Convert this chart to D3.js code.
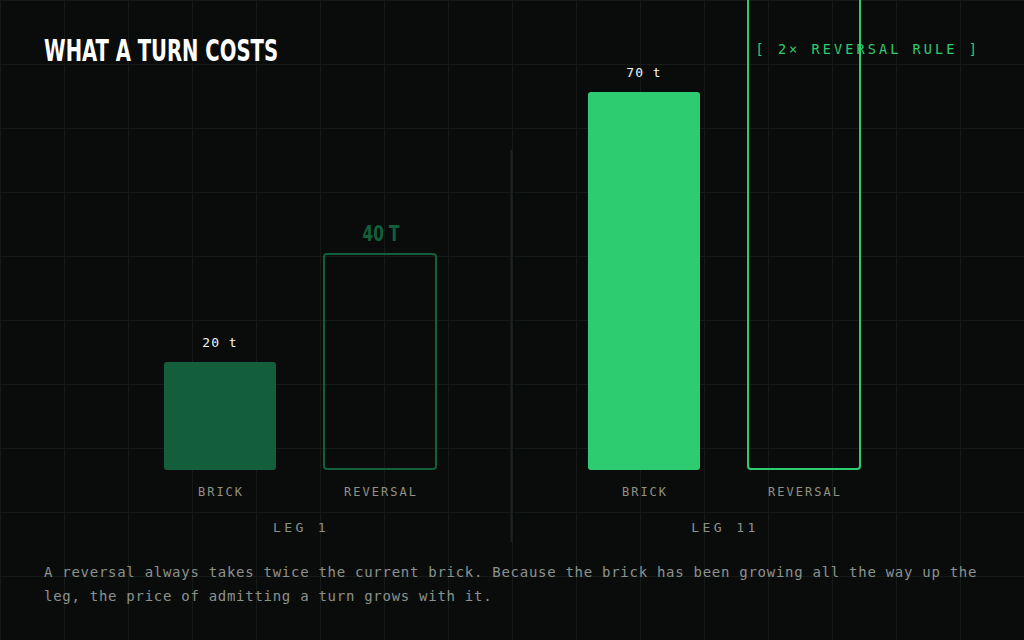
<!DOCTYPE html>
<html>
<head>
<meta charset="utf-8">
<script src="https://cdn.jsdelivr.net/npm/d3@7"></script>
<style>
  html, body { margin: 0; padding: 0; background: #0a0c0c; }
  svg { display: block; }
  .mono { font-family: "DejaVu Sans Mono", "Liberation Mono", monospace; }
  .cond { font-family: "DejaVu Sans Condensed", "DejaVu Sans", sans-serif; font-weight: bold; }
</style>
</head>
<body>
<div id="chart"></div>
<script>
// donnees du graphique
const legs = ["LEG 1", "LEG 11"];
const kinds = ["BRICK", "REVERSAL"];
const brickTonnes = [20, 70];
const reversalTonnes = [40, 140];
const legColours = ["#145f3b", "#2ecc71"];
const noteLines = [
    "A reversal always takes twice the current brick. Because the brick has been growing all the way up the",
    "leg, the price of admitting a turn grows with it."
];

const width = 1024;
const height = 640;

const svg = d3.select("#chart")
    .append("svg")
    .attr("width", width)
    .attr("height", height);

svg.append("rect")
    .attr("width", width)
    .attr("height", height)
    .attr("fill", "#0a0c0c");

// grille de fond
const grid = svg.append("g").attr("stroke", "#151a19").attr("stroke-width", 1);
grid.selectAll(".gx")
    .data(d3.range(0, width, 64))
    .enter().append("line")
    .attr("x1", d => d + 0.5).attr("x2", d => d + 0.5)
    .attr("y1", 0).attr("y2", height);
grid.selectAll(".gy")
    .data(d3.range(0, height, 64))
    .enter().append("line")
    .attr("x1", 0).attr("x2", width)
    .attr("y1", d => d + 0.5).attr("y2", d => d + 0.5);

// echelles
const x = d3.scaleBand()
    .domain(legs)
    .range([88, 936]);

const xInner = d3.scaleBand()
    .domain(kinds)
    .range([0, x.bandwidth()])
    .paddingInner(0.3)
    .paddingOuter(0.475);

const y = d3.scaleLinear()
    .domain([0, 70])
    .range([470, 92]);

// tableau par barre
const bars = [];
legs.forEach((leg, i) => {
    bars.push({ leg, kind: kinds[0], value: brickTonnes[i], colour: legColours[i] });
    bars.push({ leg, kind: kinds[1], value: reversalTonnes[i], colour: legColours[i] });
});

// separateur entre les deux jambes
svg.append("line")
    .attr("x1", 511.5).attr("x2", 511.5)
    .attr("y1", 150).attr("y2", 542)
    .attr("stroke", "#1c231f")
    .attr("stroke-width", 2);

const legG = svg.selectAll(".leg")
    .data(bars)
    .enter().append("g")
    .attr("class", "leg")
    .attr("transform", d => `translate(${x(d.leg) + xInner(d.kind)},0)`);

// briques pleines
legG.filter(d => d.kind === "BRICK").append("rect")
    .attr("x", 0)
    .attr("y", d => y(d.value))
    .attr("width", xInner.bandwidth())
    .attr("height", d => y(0) - y(d.value))
    .attr("rx", 3)
    .attr("fill", d => d.colour);

// renversements en contour
legG.filter(d => d.kind === "REVERSAL").append("rect")
    .attr("x", 0)
    .attr("y", d => y(d.value))
    .attr("width", xInner.bandwidth())
    .attr("height", d => y(0) - y(d.value) - 1)
    .attr("rx", 3)
    .attr("fill", "none")
    .attr("stroke", d => d.colour)
    .attr("stroke-width", 2);

// etiquettes de valeur
legG.filter(d => d.kind === "BRICK").append("text")
    .attr("class", "mono")
    .attr("x", xInner.bandwidth() / 2)
    .attr("y", d => y(d.value) - 15)
    .attr("text-anchor", "middle")
    .attr("fill", "#f2f5f3")
    .style("font-size", "13px")
    .style("letter-spacing", "1px")
    .text(d => `${d.value} t`);

// l'etiquette du grand renversement sort du cadre : on ne garde que celles visibles
legG.filter(d => d.kind === "REVERSAL" && y(d.value) - 13 > 24).append("text")
    .attr("class", "cond")
    .attr("x", xInner.bandwidth() / 2 + 1)
    .attr("y", d => y(d.value) - 13)
    .attr("text-anchor", "middle")
    .attr("fill", d => d.colour)
    .attr("textLength", 37)
    .attr("lengthAdjust", "spacingAndGlyphs")
    .style("font-size", "22px")
    .text(d => `${d.value} T`);

// noms des barres
legG.append("text")
    .attr("class", "mono")
    .attr("x", xInner.bandwidth() / 2 + 1)
    .attr("y", 496)
    .attr("text-anchor", "middle")
    .attr("fill", "#8f9283")
    .style("font-size", "12px")
    .style("letter-spacing", "2px")
    .text(d => d.kind);

// noms des jambes
svg.selectAll(".legLabel")
    .data(legs)
    .enter().append("text")
    .attr("class", "mono legLabel")
    .attr("x", d => x(d) + x.bandwidth() / 2 + 1)
    .attr("y", 532)
    .attr("text-anchor", "middle")
    .attr("fill", "#8a918c")
    .style("font-size", "13px")
    .style("letter-spacing", "3.4px")
    .text(d => d);

// titre
svg.append("text")
    .attr("class", "cond")
    .attr("x", 44)
    .attr("y", 61)
    .attr("fill", "#ffffff")
    .attr("textLength", 234)
    .attr("lengthAdjust", "spacingAndGlyphs")
    .style("font-size", "30px")
    .text("WHAT A TURN COSTS");

svg.append("text")
    .attr("class", "mono")
    .attr("x", 980)
    .attr("y", 54)
    .attr("text-anchor", "end")
    .attr("fill", "#2ecc71")
    .style("font-size", "13.5px")
    .style("letter-spacing", "3.1px")
    .text("[ 2× REVERSAL RULE ]");

// note de bas de page
svg.selectAll(".note")
    .data(noteLines)
    .enter().append("text")
    .attr("class", "mono note")
    .attr("x", 44)
    .attr("y", (d, i) => 577 + i * 24)
    .attr("fill", "#8b928d")
    .style("font-size", "14px")
    .style("letter-spacing", "0.72px")
    .text(d => d);
</script>
</body>
</html>
